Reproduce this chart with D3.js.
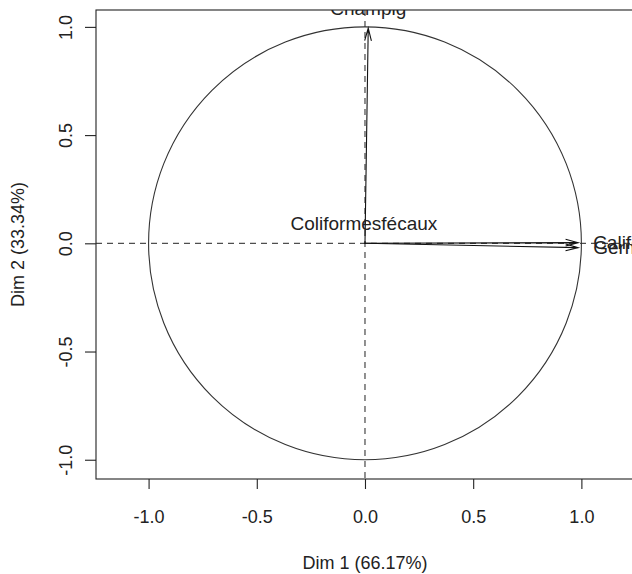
<!DOCTYPE html>
<html>
<head>
<meta charset="utf-8">
<script src="https://cdn.jsdelivr.net/npm/d3@7"></script>
<style>
  body { margin: 0; background: #fff; }
  text { font-family: "Liberation Sans", Arial, sans-serif; fill: #222; }
</style>
</head>
<body>
<div class="pca-var-plot"></div>
<script>
// variables of the correlation circle
const varNames = ["Champig", "Coliformesfécaux", "Califormestotaux", "Germestotaux"];
const dim1 = [0.015, -0.005, 0.985, 0.985];
const dim2 = [0.994, 0.0, 0.003, -0.02];
const xTicks = [-1, -0.5, 0, 0.5, 1];
const yTicks = [-1, -0.5, 0, 0.5, 1];
const xTitle = "Dim 1 (66.17%)";
const yTitle = "Dim 2 (33.34%)";

let svg = d3.select(".pca-var-plot").append("svg").attr("width", 632).attr("height", 574),
    plotLeft = 96, plotTop = 10, plotBottom = 479,
    unit = 216.4;

let x = d3.scaleLinear().domain([-1.243, 1.243]).range([plotLeft, plotLeft + 2.486 * unit]),
    y = d3.scaleLinear().domain([-1.089, 1.078]).range([plotBottom, plotTop]);

svg.append("rect").attr("width", 632).attr("height", 574).attr("fill", "#fff");

svg.append("clipPath").attr("id", "plotClip")
    .append("rect")
    .attr("x", x.range()[0]).attr("y", plotTop)
    .attr("width", x.range()[1] - x.range()[0]).attr("height", plotBottom - plotTop);

let plot = svg.append("g").attr("clip-path", "url(#plotClip)");

// dashed axes through origin
plot.append("line")
    .attr("x1", x.range()[0]).attr("x2", x.range()[1])
    .attr("y1", y(0)).attr("y2", y(0))
    .attr("stroke", "#222").attr("stroke-dasharray", "6,5");
plot.append("line")
    .attr("x1", x(0)).attr("x2", x(0))
    .attr("y1", plotTop).attr("y2", plotBottom)
    .attr("stroke", "#222").attr("stroke-dasharray", "6,5");

// unit circle
plot.append("circle")
    .attr("cx", x(0)).attr("cy", y(0))
    .attr("r", x(1) - x(0))
    .attr("fill", "none").attr("stroke", "#333").attr("stroke-width", 1.1);

let vars = varNames.map(function (name, i) {
    return {name: name, d1: dim1[i], d2: dim2[i]};
});

let arrowLen = 13, arrowAngle = 15 * Math.PI / 180;

let v = plot.selectAll(".var")
    .data(vars)
    .enter().append("g")
    .attr("class", "var");

v.append("path")
    .attr("d", function (d) {
        let x0 = x(0), y0 = y(0), x1 = x(d.d1), y1 = y(d.d2);
        let a = Math.atan2(y1 - y0, x1 - x0);
        let p = "M" + x0 + "," + y0 + "L" + x1 + "," + y1;
        if (Math.hypot(x1 - x0, y1 - y0) > 20) {
            p += "M" + (x1 - arrowLen * Math.cos(a - arrowAngle)) + "," + (y1 - arrowLen * Math.sin(a - arrowAngle))
                + "L" + x1 + "," + y1
                + "L" + (x1 - arrowLen * Math.cos(a + arrowAngle)) + "," + (y1 - arrowLen * Math.sin(a + arrowAngle));
        }
        return p;
    })
    .attr("fill", "none").attr("stroke", "#111").attr("stroke-width", 1.1);

v.append("text")
    .attr("x", function (d) { return d.d1 > 0.5 ? x(d.d1) + 15 : x(d.d1); })
    .attr("y", function (d) { return d.d1 > 0.5 ? y(d.d2) + 6.5 : y(d.d2) - 13; })
    .attr("text-anchor", function (d) { return d.d1 > 0.5 ? "start" : "middle"; })
    .style("font-size", "19px")
    .text(function (d) { return d.name; });

// box
svg.append("rect")
    .attr("x", x.range()[0]).attr("y", plotTop)
    .attr("width", x.range()[1] - x.range()[0]).attr("height", plotBottom - plotTop)
    .attr("fill", "none").attr("stroke", "#222").attr("stroke-width", 1.1);

// axes
let fmt = function (d) { return d.toFixed(1); };

let gx = svg.append("g")
    .attr("transform", "translate(0," + plotBottom + ")")
    .call(d3.axisBottom(x).tickValues(xTicks).tickFormat(fmt).tickSize(10).tickPadding(21));
gx.select(".domain").remove();
gx.selectAll("line").attr("stroke", "#222").attr("stroke-width", 1.1);
gx.selectAll("text").style("font-size", "18px").attr("fill", "#222");

let gy = svg.append("g")
    .attr("transform", "translate(" + plotLeft + ",0)")
    .call(d3.axisLeft(y).tickValues(yTicks).tickFormat(fmt).tickSize(11));
gy.select(".domain").remove();
gy.selectAll("line").attr("stroke", "#222").attr("stroke-width", 1.1);
gy.selectAll("text")
    .attr("x", null).attr("dy", null)
    .attr("transform", "translate(-24,0) rotate(-90)")
    .attr("text-anchor", "middle")
    .style("font-size", "18px").attr("fill", "#222");

svg.append("text")
    .attr("x", x(0)).attr("y", 569)
    .attr("text-anchor", "middle")
    .style("font-size", "18px")
    .text(xTitle);

svg.append("text")
    .attr("transform", "translate(24," + ((plotTop + plotBottom) / 2) + ") rotate(-90)")
    .attr("text-anchor", "middle")
    .style("font-size", "18px")
    .text(yTitle);
</script>
</body>
</html>
